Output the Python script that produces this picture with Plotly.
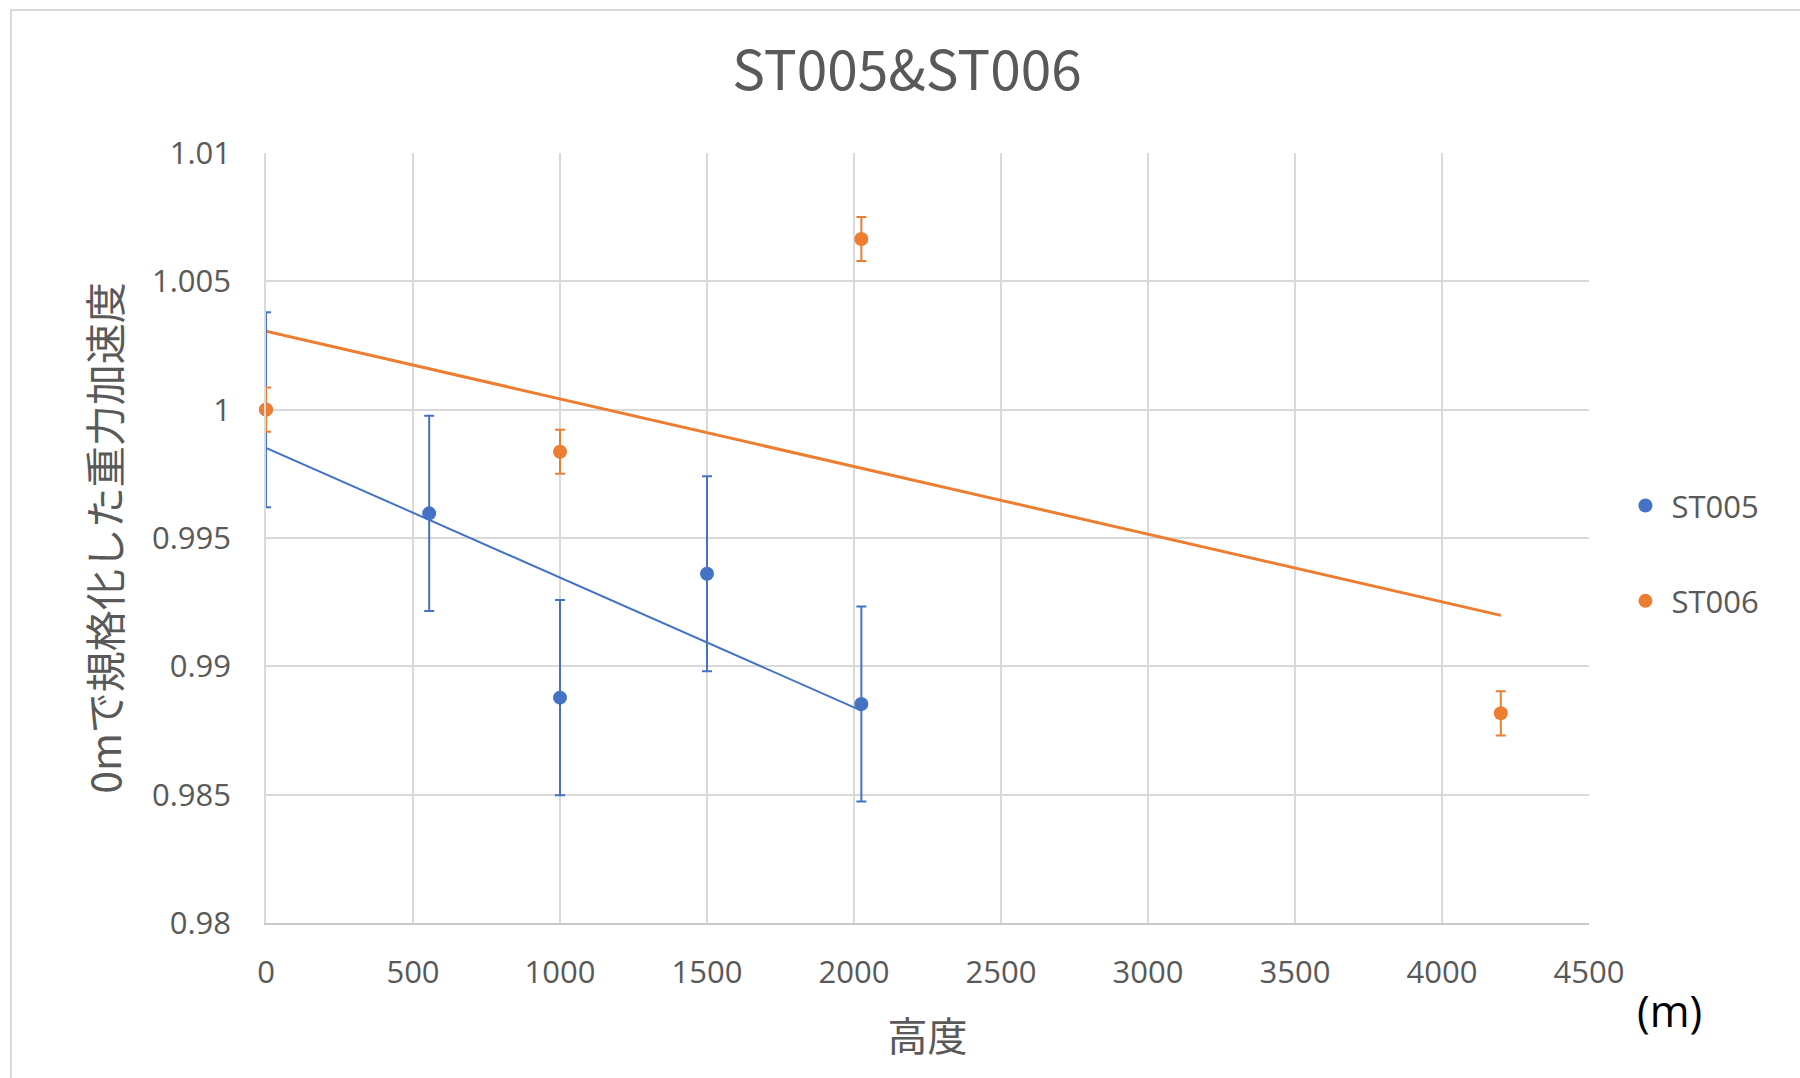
import numpy as np
import plotly.graph_objects as go

# ---- data ----
st005_height = [0, 555, 1000, 1500, 2025]
st005_g = [1.0000, 0.99596, 0.98878, 0.99361, 0.98853]
st005_err = [0.0038, 0.0038, 0.0038, 0.0038, 0.0038]

st006_height = [0, 1000, 2025, 4200]
st006_g = [1.0000, 0.99836, 1.00665, 0.98817]
st006_err = [0.00086, 0.00086, 0.00086, 0.00086]

x_tickvals = [0, 500, 1000, 1500, 2000, 2500, 3000, 3500, 4000, 4500]
y_tickvals = [0.98, 0.985, 0.99, 0.995, 1.0, 1.005, 1.01]
y_ticktext = ["0.98", "0.985", "0.99", "0.995", "1", "1.005", "1.01"]

BLUE = "#4472C4"
ORANGE = "#ED7D31"
GRAY = "#595959"
GRID = "#d9d9d9"
JP = "Noto Sans CJK JP"
LAT = "Open Sans"


def linear_trend(xs, ys):
    slope, intercept = np.polyfit(xs, ys, 1)
    xe = [min(xs), max(xs)]
    return xe, [slope * v + intercept for v in xe]


fig = go.Figure()

# trendlines (linear fits of each series)
tx, ty = linear_trend(st005_height, st005_g)
fig.add_trace(go.Scatter(x=tx, y=ty, mode="lines", line=dict(color=BLUE, width=2),
                         showlegend=False, hoverinfo="skip"))
tx, ty = linear_trend(st006_height, st006_g)
fig.add_trace(go.Scatter(x=tx, y=ty, mode="lines", line=dict(color=ORANGE, width=3),
                         showlegend=False, hoverinfo="skip"))

# data series with error bars
fig.add_trace(go.Scatter(
    x=st005_height, y=st005_g, mode="markers", name="ST005",
    marker=dict(color=BLUE, size=14),
    error_y=dict(type="data", array=st005_err, visible=True, color=BLUE,
                 thickness=2, width=5),
    cliponaxis=False, legendgroup="a"))
fig.add_trace(go.Scatter(
    x=st006_height, y=st006_g, mode="markers", name="ST006",
    marker=dict(color=ORANGE, size=14),
    error_y=dict(type="data", array=st006_err, visible=True, color=ORANGE,
                 thickness=2, width=5),
    cliponaxis=False, legendgroup="b"))

# outer chart border
fig.add_shape(type="rect", xref="paper", yref="paper",
              x0=-0.1927, x1=1.25, y0=-0.25, y1=1.1857,
              line=dict(color=GRID, width=2), fillcolor="rgba(0,0,0,0)", layer="below")

fig.add_annotation(text="(m)", xref="paper", yref="paper", x=(1669 - 266) / 1323,
                   y=(923 - 1010) / 770, xanchor="center", yanchor="middle",
                   showarrow=False,
                   font=dict(family=LAT, size=43, color="#000000"))

fig.update_layout(
    width=1800, height=1078,
    margin=dict(l=266, r=211, t=153, b=155),
    paper_bgcolor="white", plot_bgcolor="white",
    title=dict(text="ST005&ST006", x=(907 - 266) / 1323, xref="paper", xanchor="center",
               y=1 - 71 / 1078, yanchor="middle",
               font=dict(family=JP, size=55, color=GRAY)),
    legend=dict(x=1.023, xanchor="left", y=0.48, yanchor="middle",
                font=dict(family=LAT, size=31, color=GRAY),
                tracegroupgap=52, traceorder="grouped", itemsizing="trace",
                itemwidth=42),
    xaxis=dict(range=[0, 4500], tickvals=x_tickvals, showgrid=True, gridcolor=GRID,
               gridwidth=1.5, zeroline=False, showline=True, linecolor="#c8c8c8",
               linewidth=2, ticks="", ticklabelstandoff=21,
               tickfont=dict(family=LAT, size=31, color=GRAY),
               title=dict(text="高度", standoff=32,
                          font=dict(family=JP, size=40, color=GRAY))),
    yaxis=dict(range=[0.98, 1.01], tickvals=y_tickvals, ticktext=y_ticktext,
               showgrid=True, gridcolor=GRID, gridwidth=1.5, zeroline=False,
               showline=True, linecolor=GRID, linewidth=1.5, ticks="",
               ticklabelstandoff=27,
               tickfont=dict(family=LAT, size=31, color=GRAY),
               title=dict(text="0mで規格化した重力加速度", standoff=18,
                          font=dict(family=JP, size=41, color=GRAY))),
    showlegend=True,
)

fig.write_html("out.html")
